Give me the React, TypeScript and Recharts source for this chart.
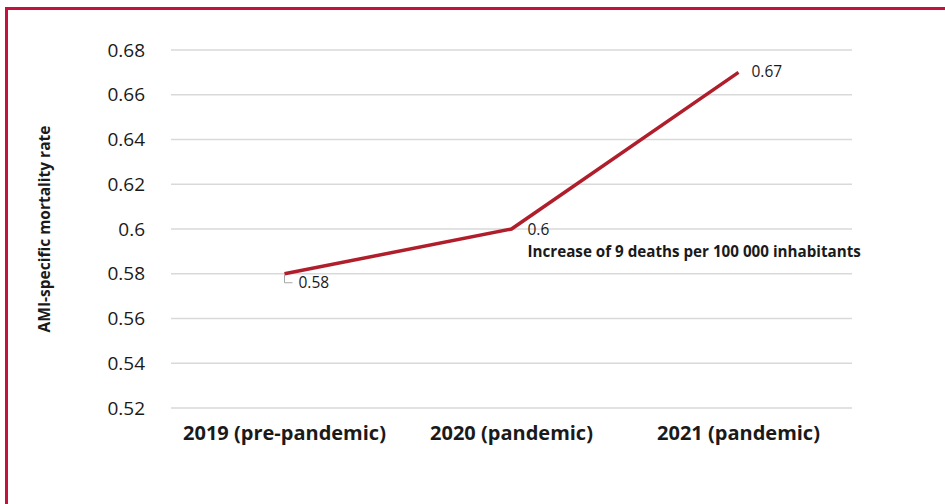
import React from 'react';
import { LineChart, Line, XAxis, YAxis, CartesianGrid, LabelList } from 'recharts';

const periods = ['2019 (pre-pandemic)', '2020 (pandemic)', '2021 (pandemic)'];
const mortalityRate = [0.58, 0.6, 0.67];
const yTicks = [0.52, 0.54, 0.56, 0.58, 0.6, 0.62, 0.64, 0.66, 0.68];
const edgeTicks = [0, 1, 2, 3];
const annotation = 'Increase of 9 deaths per 100 000 inhabitants';
const yTitle = 'AMI-specific mortality rate';

const data = periods.map((period, i) => ({ period, rate: mortalityRate[i] }));

const FONT = '"Open Sans", "Noto Sans", sans-serif';
const GRID = '#d9d9d9';
const LINE = '#b01e2c';
const BORDER = '#c4123e';

const PointLabel = (props: any) => {
  const { x, y, value, index } = props;
  if (index === 0) {
    return (
      <g>
        <path d={`M${x},${y + 1} V${y + 9} H${x + 8}`} fill="none" stroke="#a6a6a6" strokeWidth={1} />
        <text x={x + 14} y={y + 9} dy="0.35em" fontSize={15.5} fontFamily={FONT} fill="#1a1a1a">
          {value}
        </text>
      </g>
    );
  }
  if (index === 1) {
    return (
      <g>
        <text x={x + 16} y={y + 1} dy="0.35em" fontSize={15.5} fontFamily={FONT} fill="#1a1a1a">
          {value}
        </text>
        <text x={x + 16} y={y + 23} dy="0.35em" fontSize={15.2} fontWeight={700} fontFamily={FONT} fill="#1a1a1a">
          {annotation}
        </text>
      </g>
    );
  }
  return (
    <text x={x + 13} y={y - 1} dy="0.35em" fontSize={15.5} fontFamily={FONT} fill="#1a1a1a">
      {value}
    </text>
  );
};

const YTitle = (props: any) => {
  const vb = props.viewBox;
  const cx = vb.x + 14;
  const cy = vb.y + vb.height / 2;
  return (
    <text
      x={cx}
      y={cy}
      transform={`rotate(-90, ${cx}, ${cy})`}
      textAnchor="middle"
      dominantBaseline="central"
      fontSize={15.5}
      fontWeight={700}
      fontFamily={FONT}
      fill="#1a1a1a"
    >
      {yTitle}
    </text>
  );
};

export default function App() {
  return (
    <div style={{ position: 'absolute', left: 0, top: 0, width: 945, height: 504, background: '#fff' }}>
      <div
        style={{
          position: 'absolute',
          left: 5,
          top: 7,
          width: 940,
          height: 497,
          borderLeft: `3px solid ${BORDER}`,
          borderTop: `3px solid ${BORDER}`,
          boxSizing: 'border-box',
        }}
      />
      <div style={{ position: 'absolute', left: 0, top: 0 }}>
        <LineChart width={945} height={504} data={data} margin={{ top: 50, right: 93, bottom: 56, left: 30 }}>
          <CartesianGrid vertical={false} stroke={GRID} strokeWidth={1.5} xAxisId="cat" yAxisId="y" />
          <XAxis
            xAxisId="edge"
            type="number"
            domain={[0, 3]}
            ticks={edgeTicks}
            tickFormatter={() => ''}
            height={0}
            stroke={GRID}
            strokeWidth={1.5}
            tickSize={6}
            tickLine={{ stroke: GRID, strokeWidth: 1.5 }}
            axisLine={{ stroke: GRID, strokeWidth: 1.5 }}
          />
          <XAxis
            xAxisId="cat"
            dataKey="period"
            scale="band"
            axisLine={false}
            tickLine={false}
            tickSize={0}
            tickMargin={18}
            height={40}
            interval={0}
            tick={{ fontSize: 20, fontWeight: 700, fontFamily: FONT, fill: '#1a1a1a' }}
          />
          <YAxis
            yAxisId="y"
            width={141}
            domain={[0.52, 0.68]}
            ticks={yTicks}
            interval={0}
            axisLine={false}
            tickLine={false}
            tickSize={0}
            tickMargin={26}
            tick={{ fontSize: 19, fontFamily: FONT, fill: '#1a1a1a' }}
            label={<YTitle />}
          />
          <Line
            xAxisId="cat"
            yAxisId="y"
            type="linear"
            dataKey="rate"
            stroke={LINE}
            strokeWidth={3.5}
            dot={false}
            isAnimationActive={false}
          >
            <LabelList dataKey="rate" content={<PointLabel />} />
          </Line>
        </LineChart>
      </div>
    </div>
  );
}
